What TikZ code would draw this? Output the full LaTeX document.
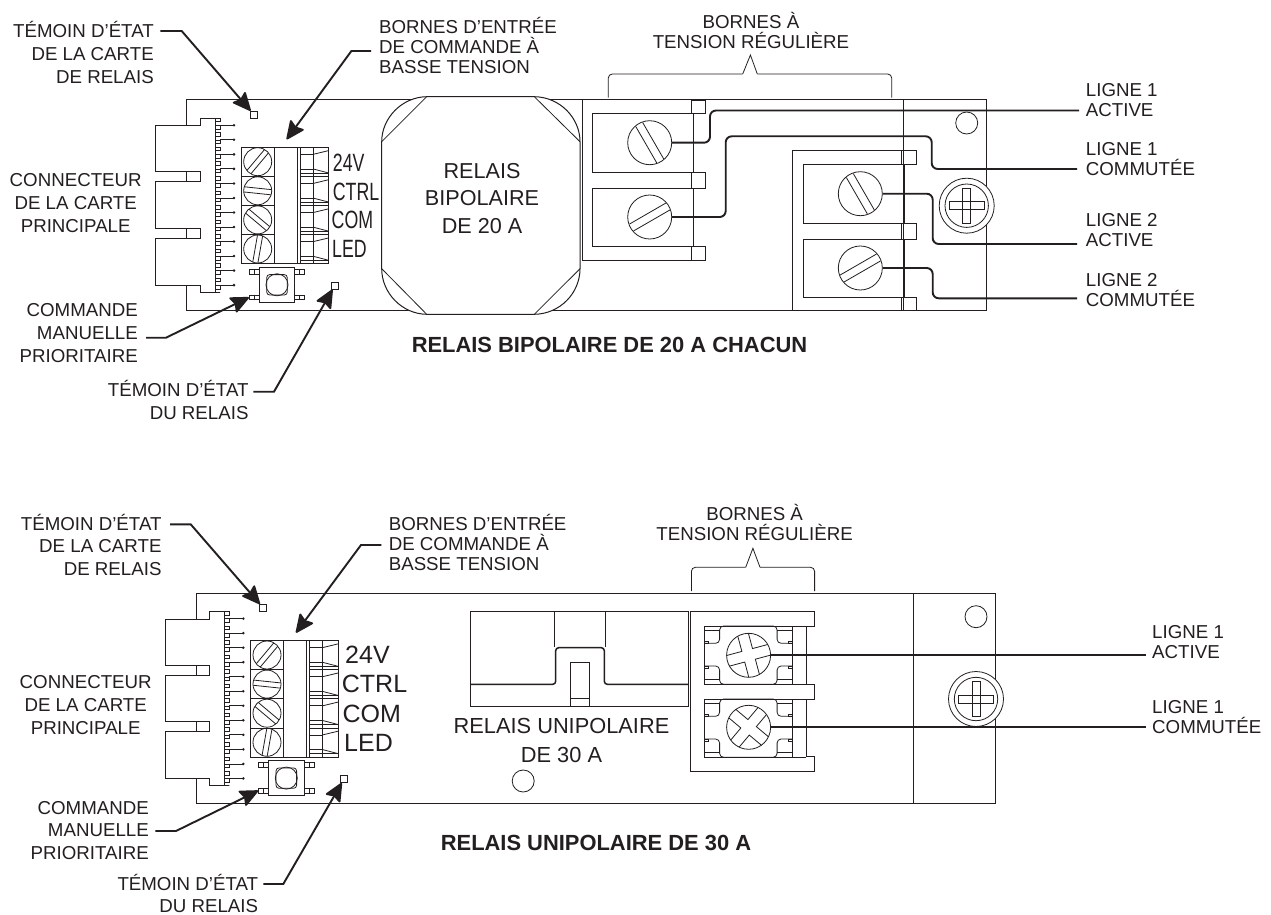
\documentclass[tikz,border=0pt]{standalone}
\usepackage{fontspec}
\usepackage{graphicx}
\setmainfont{Liberation Sans}
\usetikzlibrary{arrows.meta,calc}
\definecolor{ink}{HTML}{231F20}
\newcommand{\fr}{\rule{0pt}{17pt}}
\newcommand{\ngw}[1]{\scalebox{0.71}[1]{#1}}
\tikzset{
  thin line/.style={draw=ink,line width=0.8pt},
  outline/.style={draw=ink,line width=1pt},
  wire/.style={draw=ink,line width=1.9pt,rounded corners=6pt},
  leader/.style={draw=ink,line width=1.9pt,-{Stealth[length=20pt,width=18pt,inset=3pt,round=false,fill=ink]}},
  labbase/.style={inner sep=0pt,text=ink},
  labwide/.style={labbase,font=\fontsize{18.7}{22.7}\selectfont},
  labtight/.style={labbase,font=\fontsize{18.7}{20}\selectfont},
  relaistxt/.style={labbase,align=center},
  termlab/.style={labbase,anchor=west,font=\fontsize{25}{25}\selectfont},
  ledbox/.style={rectangle,thin line,fill=white,minimum size=7pt,inner sep=0pt},
  footbox/.style={rectangle,thin line,minimum width=10pt,minimum height=4.7pt,inner sep=0pt},
  screwc/.style={circle,thin line,inner sep=0pt},
}
% two parallel chords across a screw head
\newcommand{\slotted}[5]{% x y half-length offset angle
  \begin{scope}[shift={(#1,#2)},rotate=#5]
    \draw[thin line] (-#3,-#4)--(#3,-#4) (-#3,#4)--(#3,#4);
  \end{scope}}
% cross head
\newcommand{\crosshead}[5]{% x y L w angle
  \begin{scope}[shift={(#1,#2)},rotate=#5]
    \draw[thin line] (-#3,-#4)--(-#4,-#4)--(-#4,-#3) (#4,-#3)--(#4,-#4)--(#3,-#4)
      (#3,#4)--(#4,#4)--(#4,#3) (-#4,#3)--(-#4,#4)--(-#3,#4);
  \end{scope}}
% mounting screw
\newcommand{\mountscrew}[2]{%
  \begin{scope}[shift={(#1,#2)}]
    \fill[white] (0,0) circle[radius=27.5pt];
    \draw[thin line] (0,0) circle[radius=27.5pt] (0,0) circle[radius=21.7pt];
    \draw[thin line] (-17.5,-4)--(-4,-4)--(-4,-17.5)--(4,-17.5)--(4,-4)--(17.5,-4)--(17.5,4)--(4,4)--(4,17.5)--(-4,17.5)--(-4,4)--(-17.5,4)--cycle;
    \draw[thin line] (-4,-4) rectangle (4,4);
  \end{scope}}
% control side of a board: connector, low voltage block, switch, LEDs
\newcommand{\ctrlside}[1]{%
  \draw[outline,fill=white] (155.7,125.7)--(200,125.7)--(200,118.3)--(220,118.3)--(215,118.3)--(215,292.3)--(220,292.3)--(200,292.3)--(200,285)--(155.7,285)--(155.7,238.3)--(186.7,238.3)--(186.7,228.3)--(155.7,228.3)--(155.7,181.7)--(186.7,181.7)--(186.7,171.7)--(155.7,171.7)--cycle;
  \draw[outline] (186.7,171.7)--(200,171.7)--(200,181.7)--(186.7,181.7)
                 (186.7,228.3)--(200,228.3)--(200,238.3)--(186.7,238.3);
  \foreach \k in {0,...,23}{
    \pgfmathsetmacro{\ya}{118.3+7.27*\k}
    \pgfmathsetmacro{\yb}{\ya+3.6}
    \draw[outline] (215,\ya)--(220,\ya)--(220,\yb)--(215,\yb);
  }
  \foreach \k in {0,...,11}{
    \pgfmathsetmacro{\ya}{125.3+14.53*\k}
    \draw[thin line] (220,\ya)--(234,\ya);
    \fill[ink] (234,\ya) circle[radius=1.4pt];
  }
  % terminal block
  \draw[outline] (241.3,147.3) rectangle (328.7,263.7);
  \draw[thin line] (274,147.3)--(274,263.7);
  \draw[outline] (297.3,147.3)--(297.3,263.7);
  \draw[thin line] (300,147.3)--(300,263.7);
  \foreach \k/\ang in {0/50,1/-6,2/-40,3/80}{
    \pgfmathsetmacro{\ry}{147.3+29.1*\k}
    \pgfmathsetmacro{\rb}{\ry+29.1}
    \pgfmathsetmacro{\sy}{\ry+14.4}
    \pgfmathsetmacro{\ia}{\ry+7}
    \pgfmathsetmacro{\ib}{\ry+21.7}
    \pgfmathsetmacro{\ta}{\ry+3.3}
    \pgfmathsetmacro{\tb}{\ry+25.7}
    \draw[thin line] (241.3,\rb)--(274,\rb);
    \draw[thin line] (300,\rb)--(328.7,\rb);
    \draw[thin line] (300,\ia)rectangle(313.3,\ib);
    \draw[thin line] (313.3,\ry)--(313.3,\rb);
    \draw[thin line] (313.3,\ia)--(328.7,\ta) (313.3,\ib)--(328.7,\tb);
    \draw[thin line] (300,\tb)--(328.7,\tb);
    \draw[thin line] (257.7,\sy) circle[radius=14pt];
    \slotted{257.7}{\sy}{13.5}{2.6}{\ang}
  }
  % switch
  \node[rectangle,outline,fill=white,minimum width=35.4pt,minimum height=35pt,inner sep=0pt] (#1sw) at (277,284.8) {};
  \draw[thin line,rounded corners=3pt] (266.7,274.6) rectangle (287.3,295);
  \draw[thin line] (277,284.8) circle[radius=11pt];
  \node[footbox] (#1foota) at (254.3,271.6) {};
  \node[footbox] (#1foot) at (254.3,297.4) {};
  \node[footbox] (#1footc) at (299.7,271.6) {};
  \node[footbox] (#1footd) at (299.7,297.4) {};
  \draw[thin line] (#1foota.north) -- (#1foota.south) (#1foot.north) -- (#1foot.south)
                   (#1footc.north) -- (#1footc.south) (#1footd.north) -- (#1footd.south);
  % LEDs
  \node[ledbox] (#1leda) at (254,114.7) {};
  \node[ledbox] (#1ledb) at (334.7,285.7) {};
}
% one lower pad
\newcommand{\lowpad}[1]{%
  \begin{scope}[yshift=-#1pt]
    \draw[thin line] (704.3,626)--(704.3,684.3) (792.5,626)--(792.5,684.3);
    \draw[thin line,rounded corners=4pt] (704.3,643.3)--(719.6,643.3)--(719.6,626)--(777.1,626)--(777.1,643.3)--(792.5,643.3);
    \draw[thin line,rounded corners=4pt] (704.3,666)--(719.6,666)--(719.6,684.3)--(777.1,684.3)--(777.1,666)--(792.5,666);
    \draw[thin line] (704.3,630.5)--(719.6,630.5) (704.3,679.5)--(719.6,679.5)
                     (777.1,630.5)--(792.5,630.5) (777.1,679.5)--(792.5,679.5);
    \draw[thin line] (704.3,641)rectangle(708,643.3) (704.3,666)rectangle(708,668.3)
                     (788.8,641)rectangle(792.5,643.3) (788.8,666)rectangle(792.5,668.3);
    \draw[thin line] (704.3,626)--(806.4,626) (704.3,684.3)--(806.4,684.3);
  \end{scope}}
\begin{document}
\begin{tikzpicture}[x=1pt,y=-1pt]
\useasboundingbox (0,0) rectangle (1271,915);
\fill[white] (0,0) rectangle (1271,915);

%%%%%%%% UPPER RELAY %%%%%%%%
\draw[outline] (186.7,100) rectangle (986,310.7);
\draw[thin line] (903.3,100)--(903.3,310.7);
\draw[thin line] (966.7,123) circle[radius=11pt];
\mountscrew{966.7}{205.7}
\ctrlside{a}
% relay body
\draw[outline,fill=white] (426.7,96.7)--(534.3,96.7) .. controls (560,97) and (580,118) .. (580,141.7)
  --(580,268.7) .. controls (580,293) and (560,314) .. (534.3,314.3)
  --(426.7,314.3) .. controls (402,314) and (381.7,293) .. (381.7,268.7)
  --(381.7,141.7) .. controls (381.7,118) and (402,97) .. (426.7,96.7)--cycle;
\draw[thin line] (426.7,96.7)--(381.7,141.7) (534.3,96.7)--(580,141.7)
                 (381.7,268.7)--(426.7,314.3) (580,268.7)--(534.3,314.3);
\node[relaistxt,font=\fontsize{21.6}{27.4}\selectfont] (relA) at (482,198.5) {RELAIS\\BIPOLAIRE\\DE 20 A};
% high voltage block 1
\draw[outline] (691,100)--(582,100)--(582,260)--(691,260);
\draw[thin line] (691,100) rectangle (705.7,113.7) (691,172.3) rectangle (705.7,188) (691,246.3) rectangle (705.7,260);
\draw[thin line] (592.7,113.7) rectangle (693.3,172.3) (592.7,188) rectangle (693.3,246.3);
\node[screwc,minimum size=44pt] (sA) at (649.7,142.7) {};
\node[screwc,minimum size=44pt] (sB) at (649.7,217) {};
\slotted{649.7}{142.7}{21}{4}{-60}
\slotted{649.7}{217}{21}{4}{30}
% high voltage block 2
\draw[outline] (901.7,150.7)--(792.3,150.7)--(792.3,310.7)--(901.7,310.7);
\draw[thin line] (901.7,150.7) rectangle (916.7,164.7) (901.7,223) rectangle (916.7,239) (901.7,297) rectangle (916.7,310.7);
\draw[thin line] (803.3,164.7) rectangle (904,223) (803.3,239) rectangle (904,297);
\node[screwc,minimum size=44pt] (sC) at (860.3,193.7) {};
\node[screwc,minimum size=44pt] (sD) at (860.3,268) {};
\slotted{860.3}{193.7}{21}{4}{-60}
\slotted{860.3}{268}{21}{4}{30}
% bracket
\coordinate (brA) at (750.4,55);
\draw[thin line,rounded corners=4pt] (608.3,97.7)--(608.3,74)--(742.7,74);
\draw[thin line] (742.7,74)--(brA)--(757.3,74);
\draw[thin line,rounded corners=4pt] (757.3,74)--(891.7,74)--(891.7,97.7);
% wire ends
\coordinate (eA) at (1079,110.5);
\coordinate (eB) at (1077,169);
\coordinate (eC) at (1077,244);
\coordinate (eD) at (1077,298.3);
\draw[wire] (sA.east)--(710,142.7)--(710,110.5)--(eA);
\draw[wire] (sB.east)--(725.7,217)--(725.7,136.3)--(931.7,136.3)--(931.7,169)--(eB);
\draw[wire] (sC.east)--(932.7,193.7)--(932.7,244)--(eC);
\draw[wire] (sD.east)--(932.7,268)--(932.7,298.3)--(eD);
% right labels
\node[labtight,anchor=north west,align=left] (lA) at (1085.7,79.7) {\fr LIGNE 1\\ACTIVE};
\node[labtight,anchor=north west,align=left] (lB) at (1085.7,138) {\fr LIGNE 1\\COMMUTÉE};
\node[labtight,anchor=north west,align=left] (lC) at (1085.7,209.7) {\fr LIGNE 2\\ACTIVE};
\node[labtight,anchor=north west,align=left] (lD) at (1085.7,269) {\fr LIGNE 2\\COMMUTÉE};
% terminal labels
\node[termlab] (tA1) at (332.7,162.3) {\ngw{24V}};
\node[termlab] (tA2) at (332.7,191.7) {\ngw{CTRL}};
\node[termlab] (tA3) at (331.5,220) {\ngw{COM}};
\node[termlab] (tA4) at (332,249.3) {\ngw{LED}};
% left labels
\node[labwide,anchor=north east,align=right] (a1) at (154,20.7) {\fr TÉMOIN D’ÉTAT\\DE LA CARTE\\DE RELAIS};
\node[labtight,anchor=north west,align=left] (a2) at (379,16.7) {\fr BORNES D’ENTRÉE\\DE COMMANDE À\\BASSE TENSION};
\node[labtight,anchor=north,align=center] (a3) at (751,11.4) {\fr BORNES À\\TENSION RÉGULIÈRE};
\node[labwide,anchor=north,align=center] (a4) at (75.7,169.7) {\fr CONNECTEUR\\DE LA CARTE\\PRINCIPALE};
\node[labwide,anchor=north east,align=right] (a5) at (138,299.7) {\fr COMMANDE\\MANUELLE\\PRIORITAIRE};
\node[labwide,anchor=north east,align=right] (a6) at (248.7,379.7) {\fr TÉMOIN D’ÉTAT\\DU RELAIS};
\node[labbase,font=\fontsize{21.9}{24}\selectfont\bfseries] (titA) at (609.5,345) {RELAIS BIPOLAIRE DE 20 A CHACUN};
% leaders
\coordinate (c1) at (160.3,31);
\coordinate (c2) at (371,51);
\coordinate (c3) at (146,337.7);
\coordinate (c4) at (253.3,391.7);
\coordinate (tipA) at (286.7,139.3);
\draw[leader] (c1)--(181.7,31)--(aleda);
\draw[leader] (c2)--(351.4,51)--(tipA);
\draw[leader] (c3)--(166,337.7)--(afoot.west);
\draw[leader] (c4)--(274,391.7)--(aledb);

%%%%%%%% LOWER RELAY %%%%%%%%
\draw[outline] (196,593.3) rectangle (995.7,803.3);
\draw[thin line] (913.2,593.3)--(913.2,803.3);
\draw[thin line] (976,616.7) circle[radius=11pt];
\mountscrew{976}{699}
\draw[thin line] (523.2,781) circle[radius=11pt];
\begin{scope}[shift={(9.3,493.3)}]
  \ctrlside{b}
\end{scope}
% relay body
\draw[outline] (470.7,611.7) rectangle (688.6,706);
\draw[thin line] (554.6,611.7)--(554.6,647) (605.4,611.7)--(605.4,647);
\draw[line width=1.5pt,draw=ink,rounded corners=3pt] (470.7,684.3)--(555.7,684.3)--(555.7,647.7)--(604.3,647.7)--(604.3,684.3)--(688.6,684.3);
\draw[thin line] (570.4,706)--(570.4,662.3)--(589.6,662.3)--(589.6,706) (570.4,698.3)--(589.6,698.3);
\node[relaistxt,font=\fontsize{21.8}{29}\selectfont] (relB) at (561.5,740.5) {RELAIS UNIPOLAIRE\\DE 30 A};
% high voltage block
\draw[outline] (690.4,611.7)--(814.3,611.7)--(814.3,626)--(806.4,626)--(806.4,684.3)--(814.3,684.3)--(814.3,699)--(806.4,699)--(806.4,756.7)--(814.3,756.7)--(814.3,771.3)--(690.4,771.3)--cycle;
\lowpad{0}
\lowpad{73}
\node[screwc,minimum size=44pt,fill=white] (sE) at (748.6,655.3) {};
\node[screwc,minimum size=44pt,fill=white] (sF) at (748.6,727.3) {};
\crosshead{748.6}{655.3}{21.3}{5.5}{15}
\crosshead{748.6}{727.3}{21.3}{5.5}{-40}
% bracket
\coordinate (brB) at (752.9,548.3);
\draw[thin line,rounded corners=4pt] (691.4,591)--(691.4,567.3)--(745.7,567.3);
\draw[thin line] (745.7,567.3)--(brB)--(760,567.3);
\draw[thin line,rounded corners=4pt] (760,567.3)--(814.6,567.3)--(814.6,591);
% wires
\coordinate (eE) at (1146,655.3);
\coordinate (eF) at (1146,727.3);
\draw[wire] (sE.east)--(eE);
\draw[wire] (sF.east)--(eF);
\node[labtight,anchor=north west,align=left] (lE) at (1152,621.7) {\fr LIGNE 1\\ACTIVE};
\node[labtight,anchor=north west,align=left] (lF) at (1152,696.7) {\fr LIGNE 1\\COMMUTÉE};
% terminal labels
\node[termlab] (tB1) at (345,655) {24V};
\node[termlab] (tB2) at (341.7,684) {CTRL};
\node[termlab] (tB3) at (342.3,714) {COM};
\node[termlab] (tB4) at (344,742.7) {LED};
% left labels
\node[labwide,anchor=north east,align=right] (b1) at (161.7,513) {\fr TÉMOIN D’ÉTAT\\DE LA CARTE\\DE RELAIS};
\node[labtight,anchor=north west,align=left] (b2) at (388.6,513) {\fr BORNES D’ENTRÉE\\DE COMMANDE À\\BASSE TENSION};
\node[labtight,anchor=north,align=center] (b3) at (754.6,503) {\fr BORNES À\\TENSION RÉGULIÈRE};
\node[labwide,anchor=north,align=center] (b4) at (85.7,671.4) {\fr CONNECTEUR\\DE LA CARTE\\PRINCIPALE};
\node[labwide,anchor=north east,align=right] (b5) at (149,797) {\fr COMMANDE\\MANUELLE\\PRIORITAIRE};
\node[labwide,anchor=north east,align=right] (b6) at (258.3,872.8) {\fr TÉMOIN D’ÉTAT\\DU RELAIS};
\node[labbase,font=\fontsize{21.9}{24}\selectfont\bfseries] (titB) at (596,843) {RELAIS UNIPOLAIRE DE 30 A};
% leaders
\coordinate (d1) at (170,524.3);
\coordinate (d2) at (381.4,545);
\coordinate (d3) at (155.3,831);
\coordinate (d4) at (263.3,884);
\coordinate (tipB) at (296,632.7);
\draw[leader] (d1)--(190.7,524.3)--(bleda);
\draw[leader] (d2)--(361,545)--(tipB);
\draw[leader] (d3)--(176,831)--(bfoot.west);
\draw[leader] (d4)--(283.3,884)--(bledb);
\end{tikzpicture}
\end{document}
